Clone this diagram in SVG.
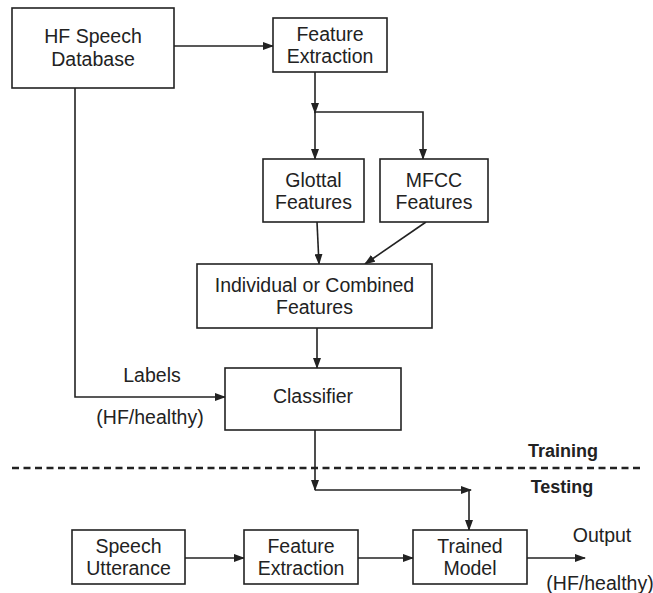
<svg xmlns="http://www.w3.org/2000/svg" width="653" height="593" viewBox="0 0 653 593">
  <defs>
    <marker id="arrow" markerWidth="11" markerHeight="8" refX="10" refY="4" orient="auto" markerUnits="userSpaceOnUse">
      <path d="M0,0 L11,4 L0,8 Z" fill="#222"/>
    </marker>
    <style>
      .box { fill: #fff; stroke: #222; stroke-width: 1.6; }
      .lbl { font-family: "Liberation Sans", Arial, sans-serif; font-size: 19.5px; fill: #222; text-anchor: middle; }
      .phase { font-family: "Liberation Sans", Arial, sans-serif; font-size: 18px; font-weight: bold; fill: #222; text-anchor: middle; }
      .wire { fill: none; stroke: #222; stroke-width: 1.6; }
      .arr { marker-end: url(#arrow); }
    </style>
  </defs>

  <rect width="653" height="593" fill="#fff"/>

  <!-- connectors -->
  <g id="connectors">
    <path class="wire arr" d="M174,46 H273"/>
    <path class="wire arr" d="M315,72 V113"/>
    <path class="wire arr" d="M315,112 V159"/>
    <path class="wire arr" d="M315,112 H423 V159"/>
    <path class="wire arr" d="M317,222 L319,264"/>
    <path class="wire arr" d="M426,222 L365,264"/>
    <path class="wire arr" d="M317,328 V368"/>
    <path class="wire arr" d="M75,88 V397 H225"/>
    <path class="wire arr" d="M315,430 V490"/>
    <path class="wire arr" d="M315,490 H471"/>
    <path class="wire arr" d="M469,490 V530"/>
    <path class="wire arr" d="M185,558 H244"/>
    <path class="wire arr" d="M358,558 H413"/>
    <path class="wire arr" d="M527,558 H585"/>
    <!-- training / testing divider -->
    <path d="M12,468 H641" fill="none" stroke="#222" stroke-width="2.6" stroke-dasharray="7,4.5"/>
  </g>

  <g id="hf-db">
    <rect class="box" x="12" y="8" width="162" height="80"/>
    <text class="lbl" x="93" y="43">HF Speech</text>
    <text class="lbl" x="93" y="66">Database</text>
  </g>

  <g id="feat-train">
    <rect class="box" x="273" y="18" width="114" height="54"/>
    <text class="lbl" x="330" y="41">Feature</text>
    <text class="lbl" x="330" y="63">Extraction</text>
  </g>

  <g id="glottal">
    <rect class="box" x="263" y="159" width="101" height="63"/>
    <text class="lbl" x="313.5" y="187">Glottal</text>
    <text class="lbl" x="313.5" y="209">Features</text>
  </g>

  <g id="mfcc">
    <rect class="box" x="380" y="159" width="108" height="63"/>
    <text class="lbl" x="434" y="187">MFCC</text>
    <text class="lbl" x="434" y="209">Features</text>
  </g>

  <g id="combined">
    <rect class="box" x="197" y="264" width="235" height="64"/>
    <text class="lbl" x="314.5" y="292">Individual or Combined</text>
    <text class="lbl" x="314.5" y="314">Features</text>
  </g>

  <g id="classifier">
    <rect class="box" x="225" y="368" width="176" height="62"/>
    <text class="lbl" x="313" y="403">Classifier</text>
  </g>

  <g id="labels">
    <text class="lbl" x="152" y="382">Labels</text>
    <text class="lbl" x="150" y="424">(HF/healthy)</text>
  </g>

  <g id="phases">
    <text class="phase" x="563" y="457">Training</text>
    <text class="phase" x="562" y="493">Testing</text>
  </g>

  <g id="utterance">
    <rect class="box" x="72" y="530" width="113" height="54"/>
    <text class="lbl" x="128.5" y="553">Speech</text>
    <text class="lbl" x="128.5" y="575">Utterance</text>
  </g>

  <g id="feat-test">
    <rect class="box" x="244" y="530" width="114" height="54"/>
    <text class="lbl" x="301" y="553">Feature</text>
    <text class="lbl" x="301" y="575">Extraction</text>
  </g>

  <g id="trained">
    <rect class="box" x="413" y="530" width="114" height="54"/>
    <text class="lbl" x="470" y="553">Trained</text>
    <text class="lbl" x="470" y="575">Model</text>
  </g>

  <g id="output">
    <text class="lbl" x="602" y="542">Output</text>
    <text class="lbl" x="600" y="590">(HF/healthy)</text>
  </g>
</svg>
